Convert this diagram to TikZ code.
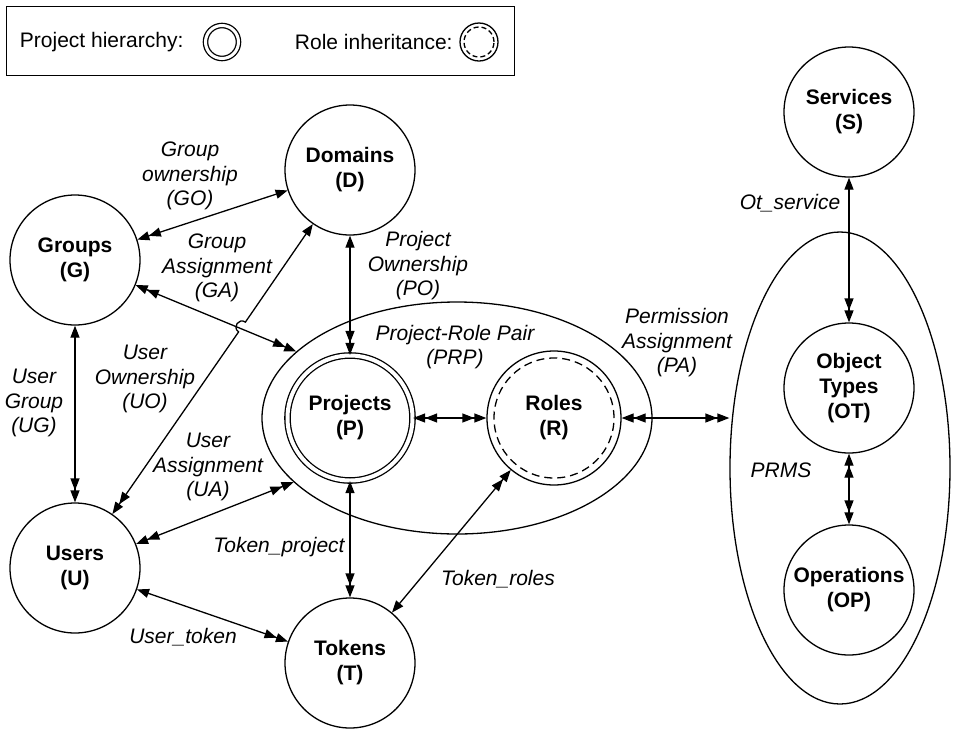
\documentclass[tikz,border=0pt]{standalone}
\usepackage{fontspec}
\setmainfont{Liberation Sans}
\usetikzlibrary{arrows.meta,shapes.geometric}
\tikzset{
  onehead/.tip={Triangle[length=12pt,width=9pt]},
  twohead/.tip={Triangle[length=12pt,width=9pt]Triangle[length=12pt,width=9pt]},
}
\begin{document}
\begin{tikzpicture}[x=1pt,y=-1pt,
  line width=1.3pt,
  every node/.style={font=\fontsize{21}{25}\selectfont},
  entity/.style={circle,draw,minimum size=130pt,inner sep=0pt,align=center,
    font=\fontsize{21}{25}\selectfont\bfseries},
  relname/.style={align=center,inner sep=0pt,font=\fontsize{21}{24.5}\selectfont\itshape},
  legendbox/.style={draw,minimum width=508pt,minimum height=69pt,anchor=north west},
]
\useasboundingbox (0,0) rectangle (954,729);

% legend
\node[legendbox] (legend) at (6,6) {};
\node[anchor=west] (lphier) at (16,42) {Project hierarchy:};
\node[circle,draw,double,double distance=3pt,minimum size=33pt] (lpcirc) at (222,42) {};
\node[anchor=west] (lrole) at (291,42) {Role inheritance:};
\node[circle,draw,minimum size=38pt] (lrcirc) at (479,42) {};
\draw[dash pattern=on 5pt off 3pt] (lrcirc.center) circle (15pt);

% entities
\node[entity] (S) at (849,112) {Services\\(S)};
\node[entity] (D) at (350,170) {Domains\\(D)};
\node[entity] (G) at (75,260) {Groups\\(G)};
\node[entity] (U) at (75,568) {Users\\(U)};
\node[entity] (T) at (350,663) {Tokens\\(T)};
\node[ellipse,draw,minimum width=390pt,minimum height=232pt] (PRP) at (457,418) {};
\node[entity,double,double distance=4pt,minimum size=125pt] (P) at (350,418) {Projects\\(P)};
\node[entity,minimum size=134pt] (R) at (554,418) {Roles\\(R)};
\draw[dash pattern=on 8pt off 5pt] (R.center) circle (60pt);
\node[ellipse,draw,minimum width=220pt,minimum height=472pt] (PRMS) at (840,468) {};
\node[entity] (OT) at (849,388) {Object\\Types\\(OT)};
\node[entity] (OP) at (849,590) {Operations\\(OP)};

% relation names
\node[relname] (lGO) at (190,176) {Group\\ownership\\(GO)};
\node[relname] (lGA) at (217,268) {Group\\Assignment\\(GA)};
\node[relname] (lPO) at (418,266) {Project\\Ownership\\(PO)};
\node[relname] (lPRP) at (455,347) {Project-Role Pair\\(PRP)};
\node[relname] (lPA) at (677,343) {Permission\\Assignment\\(PA)};
\node[relname] (lUG) at (34,403) {User\\Group\\(UG)};
\node[relname] (lUO) at (145,379) {User\\Ownership\\(UO)};
\node[relname] (lUA) at (208,467) {User\\Assignment\\(UA)};
\node[relname] (lTP) at (279,547) {Token\_project};
\node[relname] (lUT) at (183,637) {User\_token};
\node[relname] (lTR) at (498,579) {Token\_roles};
\node[relname] (lOS) at (790,203) {Ot\_service};
\node[relname] (lPRMS) at (781,470) {PRMS};

% hop of UO over GA
\coordinate (hopA) at (238.6,331.9);
\coordinate (hopB) at (245.4,322.1);

% connectors
\draw[twohead-onehead] (G) -- (D);
\draw[twohead-twohead] (G) -- (PRP);
\draw[onehead-twohead] (G) -- (U);
\draw[twohead-onehead] (U) -- (hopA) .. controls +(-6.6,-4.6) and +(-6.6,-4.6) .. (hopB) -- (D);
\draw[twohead-twohead] (U) -- (PRP);
\draw[onehead-twohead] (D) -- (P);
\draw[twohead-twohead] (P) -- (R);
\draw[twohead-twohead] (R) -- (PRMS.west |- R);
\draw[onehead-twohead] (S) -- (OT);
\draw[twohead-twohead] (OT) -- (OP);
\draw[onehead-twohead] (P) -- (T);
\draw[onehead-twohead] (T) -- (R);
\draw[onehead-twohead] (U) -- (T);
\end{tikzpicture}
\end{document}
